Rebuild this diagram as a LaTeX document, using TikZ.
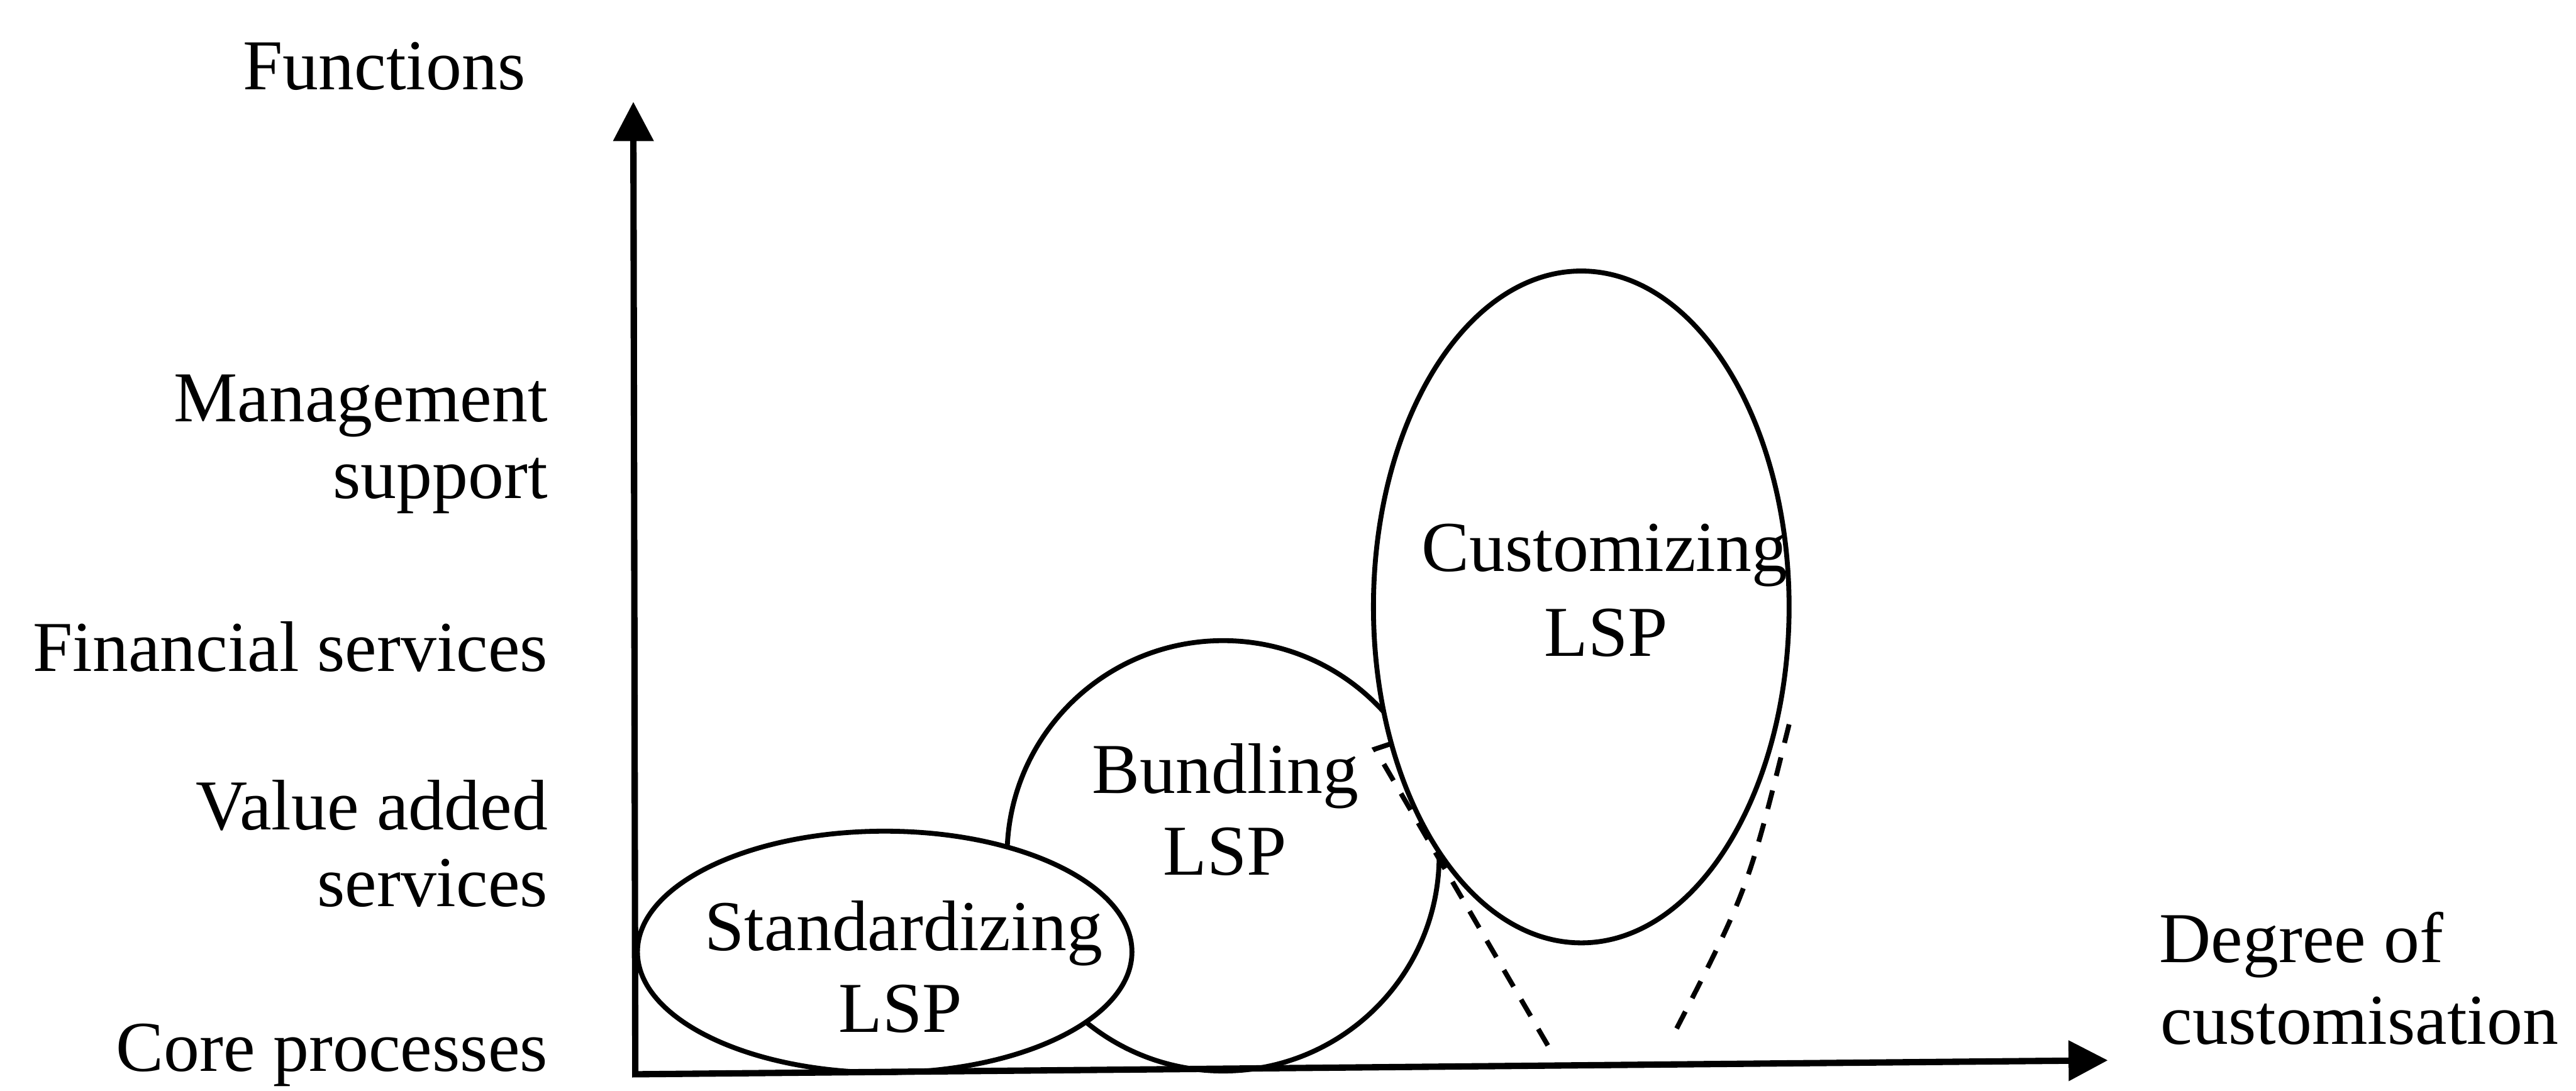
\documentclass[tikz,border=0pt]{standalone}
\usepackage{fontspec}
\setmainfont{Liberation Serif}
\usetikzlibrary{arrows.meta,shapes.geometric}
\begin{document}
\begin{tikzpicture}[x=1cm,y=1cm,
  lsp/.style={ellipse, draw, fill=white, line width=0.85pt, inner sep=0pt, outer sep=0pt},
  lbl/.style={inner sep=0pt, outer sep=0pt, font=\fontsize{12.4}{14}\selectfont},
  guide/.style={line width=0.85pt, dash pattern=on 3.3pt off 2.6pt},
  axisline/.style={line width=1.1pt, {Triangle[width=6.8pt,length=6.8pt]}-{Triangle[width=6.8pt,length=6.8pt]}}]
\useasboundingbox (0,0) rectangle (15.68,6.64);

% ellipses (Bundling behind the other two)
\node[lsp, minimum width=2.63cm, minimum height=2.62cm] (bund) at (7.445,1.43) {};
\node[lsp, minimum width=2.53cm, minimum height=4.09cm] (cust) at (9.625,2.945) {};
\node[lsp, minimum width=3.01cm, minimum height=1.47cm] (stand) at (5.385,0.845) {};

% dashed guide lines
\coordinate (lhook) at (8.466,2.112);
\coordinate (ltop) at (8.37,2.08);
\coordinate (lbot) at (9.448,0.23);
\coordinate (rtop) at (10.89,2.23);
\coordinate (rctl) at (10.64,1.223);
\coordinate (rbot) at (10.165,0.30);
\draw[guide] (lhook) -- (ltop) -- (lbot);
\draw[guide] (rtop) .. controls (rctl) .. (rbot);

% ellipse texts
\node[lbl, anchor=base] (tstand) at (5.50,0.852) {Standardizing};
\node[lbl, anchor=base] (tstandb) at (5.48,0.355) {LSP};
\node[lbl, anchor=base] (tbund) at (7.46,1.812) {Bundling};
\node[lbl, anchor=base] (tbundb) at (7.457,1.315) {LSP};
\node[lbl, anchor=base] (tcust) at (9.767,3.164) {Customizing};
\node[lbl, anchor=base] (tcustb) at (9.776,2.644) {LSP};

% axis labels
\node[lbl, anchor=base] (yname) at (2.339,6.096) {Functions};
\node[lbl, anchor=base east] (f1a) at (3.334,4.073) {Management};
\node[lbl, anchor=base east] (f1b) at (3.334,3.606) {support};
\node[lbl, anchor=base east] (f2) at (3.334,2.554) {Financial services};
\node[lbl, anchor=base east] (f3a) at (3.334,1.587) {Value added};
\node[lbl, anchor=base east] (f3b) at (3.334,1.12) {services};
\node[lbl, anchor=base east] (f4) at (3.334,0.12) {Core processes};
\node[lbl, anchor=base west] (xnamea) at (13.144,0.78) {Degree of};
\node[lbl, anchor=base west] (xnameb) at (13.153,0.283) {customisation};

% axes
\coordinate (ytip) at (3.855,6.02);
\coordinate (orig) at (3.867,0.10);
\coordinate (xtip) at (12.83,0.185);
\draw[axisline] (ytip) -- (orig) -- (xtip);
\end{tikzpicture}
\end{document}
